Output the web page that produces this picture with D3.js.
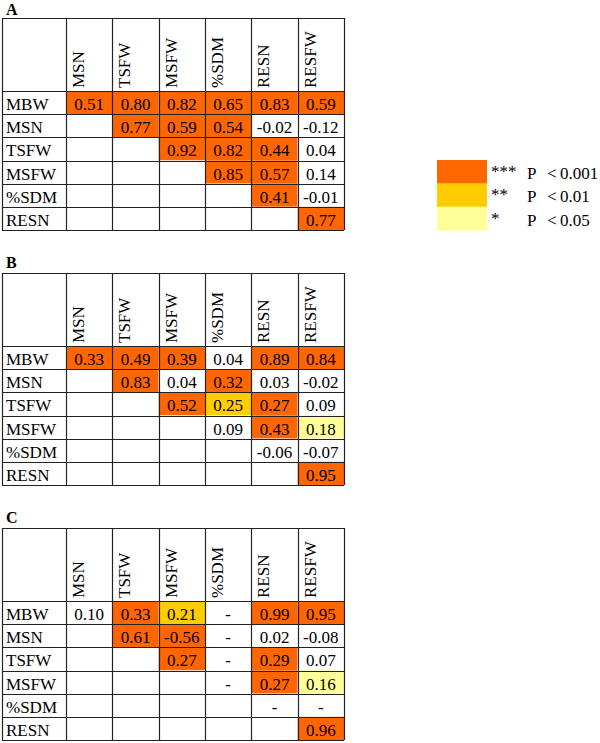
<!DOCTYPE html>
<html><head><meta charset="utf-8">
<script src="https://cdn.jsdelivr.net/npm/d3@7"></script>
<style>
html,body{margin:0;padding:0;background:#fff;}
svg{display:block;font-family:"Liberation Serif","Times New Roman",serif;}
</style></head>
<body>
<svg id="chart" width="600" height="743"></svg>
<script>
const rowLabels = ["MBW","MSN","TSFW","MSFW","%SDM","RESN"];
const colLabels = ["MSN","TSFW","MSFW","%SDM","RESN","RESFW"];
// value strings; "" = empty cell
const valuesA = [
  ["0.51","0.80","0.82","0.65","0.83","0.59"],
  ["","0.77","0.59","0.54","-0.02","-0.12"],
  ["","","0.92","0.82","0.44","0.04"],
  ["","","","0.85","0.57","0.14"],
  ["","","","","0.41","-0.01"],
  ["","","","","","0.77"]
];
// significance level: 3 = ***, 2 = **, 1 = *, 0 = ns
const sigA = [
  [3,3,3,3,3,3],
  [0,3,3,3,0,0],
  [0,0,3,3,3,0],
  [0,0,0,3,3,0],
  [0,0,0,0,3,0],
  [0,0,0,0,0,3]
];
const valuesB = [
  ["0.33","0.49","0.39","0.04","0.89","0.84"],
  ["","0.83","0.04","0.32","0.03","-0.02"],
  ["","","0.52","0.25","0.27","0.09"],
  ["","","","0.09","0.43","0.18"],
  ["","","","","-0.06","-0.07"],
  ["","","","","","0.95"]
];
const sigB = [
  [3,3,3,0,3,3],
  [0,3,0,3,0,0],
  [0,0,3,2,3,0],
  [0,0,0,0,3,1],
  [0,0,0,0,0,0],
  [0,0,0,0,0,3]
];
const valuesC = [
  ["0.10","0.33","0.21","-","0.99","0.95"],
  ["","0.61","-0.56","-","0.02","-0.08"],
  ["","","0.27","-","0.29","0.07"],
  ["","","","-","0.27","0.16"],
  ["","","","","-","-"],
  ["","","","","","0.96"]
];
const sigC = [
  [0,3,2,0,3,3],
  [0,3,3,0,0,0],
  [0,0,3,0,3,0],
  [0,0,0,0,3,1],
  [0,0,0,0,0,0],
  [0,0,0,0,0,3]
];
const panelLabels = ["A","B","C"];
const legendStars = ["***","**","*"];
const legendP = ["0.001","0.01","0.05"];
const legendLevels = [3,2,1];

const sigColor = d3.scaleOrdinal().domain([0,1,2,3]).range(["#ffffff","#ffff99","#ffcc00","#ff6600"]);

const svg = d3.select("#chart");
const left = 2, firstW = 64, right = 344, headH = 73, bodyH = 139;
const tops = [18, 273, 528];
const labelY = [15, 268, 523];
const panels = [[valuesA,sigA],[valuesB,sigB],[valuesC,sigC]];
const FS = 17;

panels.forEach(([vals,sig],pi) => {
  const top = tops[pi];
  const g = svg.append("g");
  const x = d3.scaleBand().domain(colLabels).range([left+firstW, right]);
  const y = d3.scaleBand().domain(rowLabels).range([top+headH, top+headH+bodyH]);

  g.append("text").attr("x", 6).attr("y", labelY[pi]).attr("font-weight","bold")
    .attr("font-size", 16).text(panelLabels[pi]);

  // cells
  const cells = [];
  rowLabels.forEach((r,i) => colLabels.forEach((c,j) => cells.push({r,c,v:vals[i][j],s:sig[i][j]})));
  g.selectAll("rect.cell").data(cells).join("rect").attr("class","cell")
    .attr("x", d=>x(d.c)).attr("y", d=>y(d.r))
    .attr("width", x.bandwidth()).attr("height", y.bandwidth())
    .attr("fill", d=>sigColor(d.s));
  g.selectAll("text.val").data(cells.filter(d=>d.v!=="")).join("text").attr("class","val")
    .attr("x", d=>x(d.c)+x.bandwidth()/2).attr("y", d=>y(d.r)+19)
    .attr("text-anchor","middle").attr("font-size", FS).attr("fill","#000").text(d=>d.v);

  // row labels
  g.selectAll("text.rl").data(rowLabels).join("text").attr("class","rl")
    .attr("x", left+4).attr("y", d=>y(d)+19).attr("font-size", FS).text(d=>d);
  // column headers (rotated)
  g.selectAll("text.cl").data(colLabels).join("text").attr("class","cl")
    .attr("transform", d=>`translate(${x(d)+18},${top+headH-3}) rotate(-90)`)
    .attr("font-size", FS).text(d=>d);

  // grid lines
  const vlines = [left, left+firstW, ...colLabels.slice(1).map(c=>x(c)), right];
  const hlines = [top, top+headH, ...rowLabels.slice(1).map(r=>y(r)), top+headH+bodyH];
  g.selectAll("line.v").data(vlines).join("line").attr("class","v")
    .attr("x1", d=>Math.round(d)+0.5).attr("x2", d=>Math.round(d)+0.5)
    .attr("y1", top).attr("y2", top+headH+bodyH)
    .attr("stroke","#222").attr("stroke-width",1.2);
  g.selectAll("line.h").data(hlines).join("line").attr("class","h")
    .attr("y1", d=>Math.round(d)+0.5).attr("y2", d=>Math.round(d)+0.5)
    .attr("x1", left).attr("x2", right)
    .attr("stroke","#222").attr("stroke-width",1.2);
});

// legend
const ly = d3.scaleBand().domain(legendLevels).range([160, 230]);
const lg = svg.append("g");
lg.selectAll("rect").data(legendLevels).join("rect")
  .attr("x", 437).attr("y", d=>ly(d)).attr("width", 50).attr("height", ly.bandwidth()+0.5)
  .attr("fill", d=>sigColor(d));
lg.selectAll("text.star").data(legendLevels).join("text").attr("class","star")
  .attr("x", 491).attr("y", d=>ly(d)+17).attr("font-size", FS).text((d,i)=>legendStars[i]);
const pt = lg.selectAll("text.p").data(legendLevels).join("text").attr("class","p")
  .attr("x", 527).attr("y", d=>ly(d)+19).attr("font-size", FS);
pt.append("tspan").text("P");
pt.append("tspan").attr("x", 547).text((d,i)=>"<\u2009" + legendP[i]);
</script>
</body></html>
